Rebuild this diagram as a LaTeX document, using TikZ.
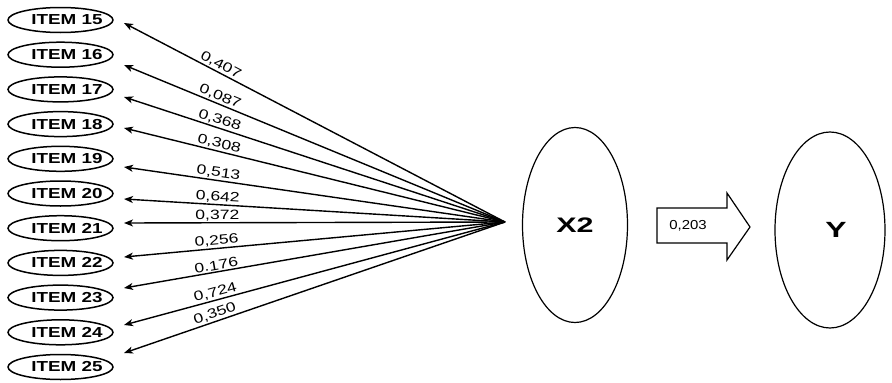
\documentclass[tikz,border=0pt]{standalone}
\usepackage{fontspec}
\usepackage{graphicx}
\setmainfont{Liberation Sans}
\usetikzlibrary{shapes.geometric,arrows.meta,calc}
\newcommand{\hstretch}[2]{\scalebox{#1}[1]{#2}}
\newcommand{\itemtext}[1]{\makebox[0pt][c]{\hspace{13pt}\hstretch{1.3}{\fontsize{14.5}{16}\selectfont\bfseries #1}}}
\begin{document}
\begin{tikzpicture}[x=1pt,y=-1pt,
  item/.style={draw, ellipse, line width=1.5pt, minimum width=105pt, minimum height=25pt, inner sep=0pt},
  latent/.style={draw, ellipse, line width=1.2pt, inner sep=0pt},
  load/.style={line width=1.4pt, -{Stealth[length=9pt,width=7pt,inset=2.5pt]}},
  coef/.style={sloped, above, inner sep=1.2pt, font=\fontsize{13.5}{15}\selectfont, pos=0.755},
  blockarrow/.style={draw, line width=1.2pt, fill=white}]
\useasboundingbox (0,0) rectangle (892,383);
\fill[white] (0,0) rectangle (892,383);

% indicator items
\foreach \n [count=\i from 0] in {15,...,25}
  \node[item] (i\n) at (60.5, 20+34.7*\i) {\itemtext{ITEM \n}};

% apex where the loadings converge
\coordinate (apex) at (505,222);

% arrow tips near the items
\foreach \n/\dy in {15/3,16/10.3,17/7.6,18/3.9,19/8.2,20/5.5,21/-5.2,22/-5.9,23/-9.6,24/-7.3,25/-14}
  \coordinate (t\n) at ($(i\n.center)+(63.5,\dy)$);

% loadings
\foreach \n/\c in {15/{0,407},16/{0,087},17/{0,368},18/{0,308},19/{0,513},20/{0,642},21/{0,372},22/{0,256},23/{0.176},24/{0,724},25/{0,350}}
  \draw[load] (apex) -- node[coef]{\hstretch{1.3}{\c}} (t\n);

% latent variables
\node[latent, minimum width=105pt, minimum height=195pt] (x2) at (575,225)
  {\hstretch{1.45}{\fontsize{21}{24}\selectfont\bfseries X2}};
\node[latent, minimum width=110pt, minimum height=196pt] (y) at (830,230)
  {\makebox[0pt][c]{\hspace{12pt}\hstretch{1.45}{\fontsize{22}{25}\selectfont\bfseries Y}}};

% block arrow X2 -> Y
\draw[blockarrow] (657,208) -- (727,208) -- (727,193) -- (750,227) -- (727,260) -- (727,243) -- (657,243) -- cycle;
\node (coefxy) at (688,226) {\hstretch{1.15}{\fontsize{13}{15}\selectfont 0,203}};
\end{tikzpicture}
\end{document}
